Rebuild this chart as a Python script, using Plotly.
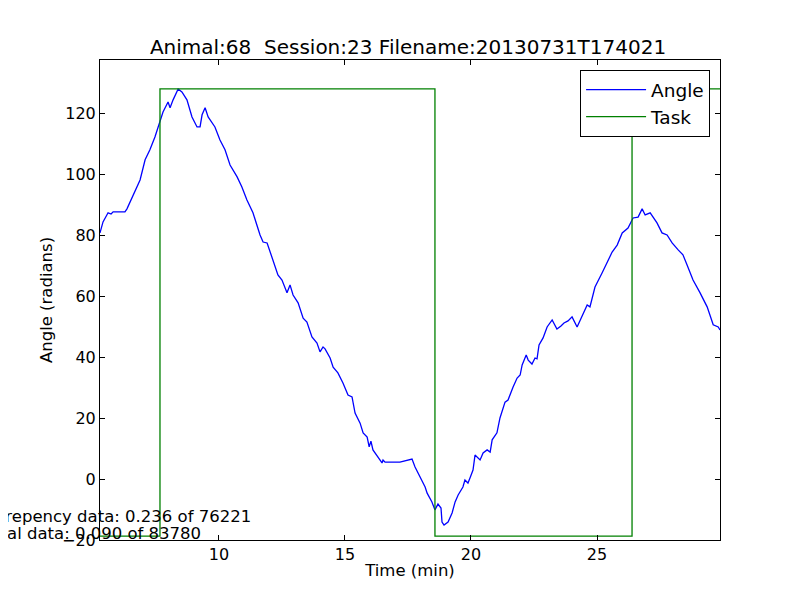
import plotly.graph_objects as go

# angle trace (time in min, angle)
time_min = [5.28, 5.40, 5.60, 5.72, 5.80, 6.27, 6.35, 6.59, 6.87, 7.07, 7.26, 7.46,
            7.66, 7.78, 7.98, 8.06, 8.18, 8.38, 8.53, 8.73, 8.93, 9.13, 9.25, 9.33,
            9.45, 9.57, 9.84, 10.04, 10.24, 10.44, 10.72, 10.91, 11.11, 11.35, 11.63,
            11.75, 11.91, 12.15, 12.34, 12.50, 12.70, 12.82, 12.94, 13.14, 13.34,
            13.49, 13.69, 13.89, 14.01, 14.13, 14.21, 14.41, 14.53, 14.72, 14.92,
            15.12, 15.28, 15.40, 15.60, 15.72, 15.88, 15.96, 16.03, 16.11, 16.31,
            16.47, 16.51, 16.59, 17.18, 17.66, 17.78, 17.98, 18.18, 18.26, 18.45,
            18.57, 18.69, 18.81, 18.85, 18.93, 19.09, 19.25, 19.37, 19.49, 19.68,
            19.76, 19.88, 19.96, 20.08, 20.16, 20.36, 20.48, 20.64, 20.76, 20.84,
            21.03, 21.15, 21.35, 21.47, 21.67, 21.83, 21.95, 22.03, 22.19, 22.27,
            22.42, 22.54, 22.62, 22.70, 22.86, 23.02, 23.22, 23.30, 23.41, 23.57,
            23.69, 23.85, 24.01, 24.21, 24.45, 24.61, 24.72, 24.92, 25.20, 25.40,
            25.60, 25.80, 26.00, 26.23, 26.43, 26.63, 26.79, 26.91, 27.11, 27.38,
            27.58, 27.78, 27.98, 28.22, 28.41, 28.57, 28.81, 29.09, 29.37, 29.61,
            29.81, 29.88]
angle = [80.9, 84.5, 87.5, 87.1, 87.8, 87.8, 88.8, 93.4, 98.3, 104.9, 108.2, 112.4,
         117.4, 120.6, 123.9, 122.0, 124.6, 128.2, 127.2, 124.6, 119.0, 115.7, 115.7,
         119.7, 122.0, 119.0, 115.7, 111.4, 108.2, 103.2, 99.3, 96.0, 91.7, 87.5,
         80.2, 77.9, 77.6, 71.4, 67.1, 65.4, 61.2, 63.8, 60.5, 57.9, 52.9, 51.6,
         46.7, 44.7, 41.8, 43.4, 42.8, 39.8, 36.8, 34.9, 31.6, 27.6, 27.0, 21.7,
         18.4, 15.2, 13.8, 10.6, 12.5, 9.6, 7.3, 5.3, 6.3, 5.6, 5.6, 6.6, 4.0, 0.7,
         -2.6, -4.6, -7.5, -10.1, -8.2, -9.5, -14.1, -15.1, -14.1, -11.1, -7.5,
         -5.2, -2.6, -0.3, -1.3, 0.4, 3.0, 7.9, 6.3, 8.6, 9.6, 8.9, 12.9, 15.2,
         20.1, 25.3, 26.0, 30.3, 33.2, 34.2, 37.5, 40.8, 39.1, 37.8, 39.8, 39.5,
         44.1, 46.4, 50.0, 52.3, 51.0, 49.3, 50.3, 51.3, 52.0, 53.3, 50.0, 54.6,
         57.2, 56.6, 63.1, 67.7, 71.0, 74.6, 76.9, 80.9, 82.5, 85.8, 86.1, 88.8,
         86.8, 87.5, 84.2, 80.9, 80.2, 77.6, 75.3, 73.7, 70.4, 65.4, 61.2, 56.6,
         50.7, 50.0, 49.0]

# task on/off square wave
task_time = [5.28, 7.66, 7.66, 18.57, 18.57, 26.39, 26.39, 30.5]
task_level = [-18.7, -18.7, 128.2, 128.2, -18.7, -18.7, 128.2, 128.2]

title = "Animal:68  Session:23 Filename:20130731T174021"
notes = ["Distrepency data: 0.236 of 76221", "Trial data: 0.090 of 83780"]

font = "DejaVu Sans"

fig = go.Figure()
fig.add_trace(go.Scatter(x=time_min, y=angle, mode="lines", name="Angle",
                         line=dict(color="#0000ff", width=1.3)))
fig.add_trace(go.Scatter(x=task_time, y=task_level, mode="lines", name="Task",
                         line=dict(color="#008000", width=1.3)))

axis_style = dict(showline=True, linecolor="black", linewidth=1, mirror="ticks",
                  ticks="inside", ticklen=5, tickcolor="black", showgrid=False,
                  zeroline=False, automargin=False,
                  tickfont=dict(size=16, color="black"))

# page body adds ~8px offset, so margins are nudged to compensate
fig.update_layout(
    width=800, height=600,
    margin=dict(l=92, r=88, t=52, b=68),
    paper_bgcolor="white", plot_bgcolor="white",
    font=dict(family=font, color="black"),
    title=dict(text=title, x=0.5, xanchor="center", y=0.935, yanchor="middle",
               font=dict(size=20)),
    xaxis=dict(range=[5.28, 29.88], tickvals=[10, 15, 20, 25],
               title=dict(text="Time (min)", font=dict(size=16.5), standoff=1),
               **axis_style),
    yaxis=dict(range=[-20, 137.7], tickvals=list(range(-20, 121, 20)),
               title=dict(text="Angle (radians)", font=dict(size=16.5), standoff=5),
               **axis_style),
    legend=dict(x=0.984, y=0.979, xanchor="right", yanchor="top",
                bgcolor="white", bordercolor="black", borderwidth=1,
                font=dict(size=18.5), itemwidth=60),
    showlegend=True,
)

for txt, xr, yr in zip(notes, [0.247, 0.166], [0.05, 0.0145]):
    fig.add_annotation(text=txt, xref="paper", yref="paper", x=xr, y=yr,
                       xanchor="right", yanchor="middle", showarrow=False,
                       font=dict(size=16.5, color="black"))

fig.write_html("out.html")
